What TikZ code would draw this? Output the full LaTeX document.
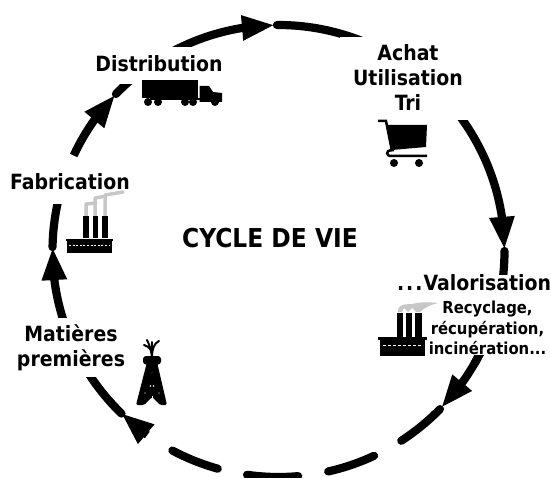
\documentclass[tikz,border=0pt]{standalone}
\usepackage{fontspec}
\setmainfont{DejaVu Sans Condensed}
\usetikzlibrary{calc,arrows.meta,bending}
\tikzset{
  ring/.style={line width=8.2pt,line cap=round,black},
  head/.style={-{Triangle[length=33pt,width=23pt,flex]},line cap=butt},
  lab/.style={font=\bfseries\fontsize{21}{25}\selectfont,align=center,inner sep=0pt},
  sublab/.style={font=\bfseries\fontsize{16.5}{20.5}\selectfont,align=center,inner sep=0pt},
  smoke/.style={line width=3.5pt,draw=black!22,line cap=round,line join=round}
}
\newcommand{\seg}[3][]{\draw[ring,#1] ($(c)+(#2:226pt)$) arc[start angle=#2,end angle=#3,radius=226pt];}
\begin{document}
\begin{tikzpicture}[x=1pt,y=-1pt]
\useasboundingbox (0,0) rectangle (551,478);
\fill[white] (0,0) rectangle (551,478);
\coordinate (c) at (278.5,251);
% ring, clockwise
\seg[head]{125}{90.9}
\seg{90.4}{55}
\seg[head]{58}{0.3}
\seg{0}{-30}
\seg[head]{-22}{-44}
\seg{-44.4}{-57.1}
\seg{-65}{-77.3}
\seg{-85}{-98}
\seg{-105.6}{-118}
\seg[head]{-125.5}{-134.2}
\seg{-134}{-155}
\seg[head]{-160}{-181}
\seg{-181}{-200}
\seg[head]{-205}{-223.8}
\seg{-224}{-240}
% cut-outs behind the labels
\fill[white] (96,47) rectangle (222,84);
\fill[white] (340,37) rectangle (470,120);
\fill[white] (378,275) rectangle (551,355);
\fill[white] (5,163) rectangle (130,204);
\fill[white] (15,318) rectangle (125,377);
% labels
\node[lab] (dist) at (159,63.5) {Distribution};
\node[lab] (achat) at (408,78) {Achat\\Utilisation\\Tri};
\node[lab] (fab) at (70,182) {Fabrication};
\node[lab] (val) at (474,283) {.\kern2pt.\kern2pt.\kern1pt Valorisation};
\node[sublab] (rec) at (487.5,328) {Recyclage,\\récupération,\\incinération...};
\node[lab] (mat) at (71,347.5) {Matières\\premières};
\node[lab,font=\bfseries\fontsize{26}{25}\selectfont] (cycle) at (270,238) {CYCLE DE VIE};
% truck
\fill (142,80) rectangle (198,98);
\fill (150,98) rectangle (200,100);
\fill (199.5,86) -- (209,86) -- (213,92) -- (222,93) -- (222,102) -- (199.5,102) -- cycle;
\foreach \wx in {148,158,185,193,215} \fill (\wx,102) circle (4);
% cart
\fill (387,125) -- (427,125) -- (426,147) -- (392,150) -- cycle;
\draw[line width=2.5pt] (378,121) -- (386,121) -- (392,151);
\draw[line width=2.5pt] (427,156) -- (390,156) arc[start angle=270,end angle=90,radius=2.8pt] -- (394,150);
\fill (394,163) circle (4);
\fill (419,163) circle (4);
% factory, small
\draw[smoke] (86,216) -- (86,204) -- (96,203);
\draw[smoke] (95,216) -- (95,198) -- (106,196);
\draw[smoke] (105,216) -- (105,195) -- (123,192);
\fill (83,216) rectangle (89,238);
\fill (92.5,216) rectangle (98,238);
\fill (102,216) rectangle (108,238);
\fill (66,239) rectangle (113,241);
\fill (67,241) rectangle (112,253);
\draw[white,line width=0.7pt,dash pattern=on 2pt off 1.6pt] (69,245) -- (110,245);
% factory, large
\fill[black!22] (398,312) .. controls (397,306) and (402,304) .. (412,304) .. controls (420,302) and (430,302) .. (438,303) .. controls (430,305) and (424,308) .. (420,312) -- (416,312) -- (412,308) -- (408,312) -- (404,308) -- (402,312) -- cycle;
\fill (397,313) rectangle (403,337);
\fill (406,313) rectangle (412,337);
\fill (415,313) rectangle (421.5,337);
\fill (378,337) rectangle (427,340);
\fill (380,340) rectangle (425,356);
\draw[white,line width=0.7pt,dash pattern=on 3pt off 2pt] (383,345) -- (423,345);
% derrick
\draw[line width=2pt,line cap=round] (152,356) .. controls (152,350) and (150,347) .. (144,345);
\draw[line width=2pt,line cap=round] (152,356) .. controls (151,350) and (150,346) .. (147,340);
\draw[line width=2pt,line cap=round] (152,356) .. controls (152,350) and (154,343) .. (159,341);
\draw[line width=2pt,line cap=round] (152,356) -- (152,342);
\fill[rounded corners=3pt] (143,356) rectangle (161,364.5);
\fill[rounded corners=1.5pt] (147,362) -- (157,362) -- (167,405) -- (160,405) -- (152,397) -- (144,405) -- (136,405) -- cycle;
\fill[white] (150.5,386) circle (.8) (153.5,386) circle (.8) (145,393) circle (.6) (159,393) circle (.6) (152,373) circle (.4);
\draw[white,line width=.5pt] (152,396) -- (152,402);
\end{tikzpicture}
\end{document}
